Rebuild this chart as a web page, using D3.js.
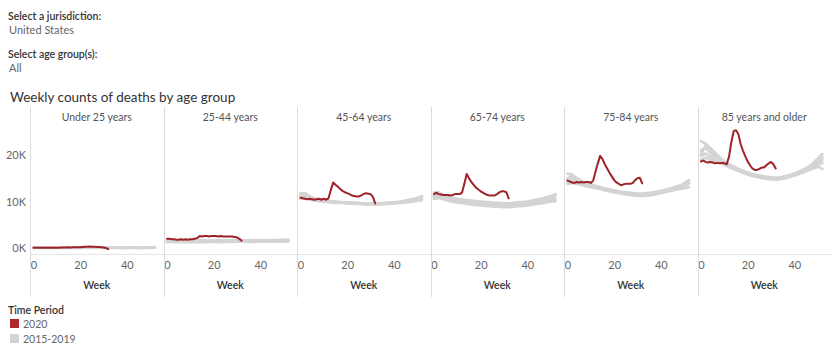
<!DOCTYPE html>
<html>
<head>
<meta charset="utf-8">
<script src="https://cdn.jsdelivr.net/npm/d3@7"></script>
<style>
  html, body { margin: 0; padding: 0; background: #fff; }
  svg { display: block; font-family: Lato, "Open Sans", sans-serif; }
</style>
</head>
<body>
<svg id="chart" width="840" height="356"></svg>
<script>
// ---------------- DATA ----------------
const ageGroups = ["Under 25 years", "25-44 years", "45-64 years", "65-74 years", "75-84 years", "85 years and older"];
const yTicks = [0, 10, 20];          // thousands
const yTickLabels = ["0K", "10K", "20K"];
const xTicks = [0, 20, 40];
const periods = ["2020", "2015-2019"];

// 2020 weekly deaths (thousands), weeks 0..32
const weeks2020 = d3.range(0, 33);
const d2020_under25 = [0.1,0.1,0.1,0.1,0.1,0.1,0.1,0.1,0.1,0.1,0.1,0.1,0.15,0.15,0.15,0.2,0.15,0.2,0.2,0.2,0.2,0.25,0.3,0.3,0.35,0.3,0.3,0.25,0.25,0.2,0.15,0.05,-0.2];
const d2020_25_44 = [2.0,2.0,1.9,1.9,1.8,1.8,1.9,1.8,1.9,1.8,1.9,1.9,2.0,2.2,2.6,2.5,2.6,2.6,2.5,2.6,2.6,2.6,2.5,2.6,2.5,2.5,2.5,2.5,2.5,2.4,2.3,2.0,1.6];
const d2020_45_64 = [10.8,10.7,10.6,10.5,10.6,10.5,10.4,10.5,10.6,10.4,10.6,10.4,10.7,12.5,14.1,13.6,13.2,12.7,12.3,12.0,11.8,11.6,11.3,11.2,11.1,11.1,11.3,11.6,11.8,11.7,11.6,11.0,9.6];
const d2020_65_74 = [11.6,11.9,11.6,11.5,11.4,11.4,11.4,11.3,11.4,11.6,11.6,11.6,11.9,13.8,15.9,15.0,14.2,13.6,13.0,12.6,12.2,11.9,11.6,11.4,11.3,11.3,11.3,11.6,12.0,12.2,12.2,12.0,10.7];
const d2020_75_84 = [14.5,14.3,14.1,14.0,14.2,14.1,14.2,14.1,14.2,14.2,14.0,14.5,16.4,18.2,19.8,19.1,18.0,17.1,16.2,15.4,14.6,14.1,13.8,13.5,13.7,13.8,13.8,13.8,14.0,14.6,15.0,15.1,13.9];
const d2020_85plus = [18.6,18.8,18.5,18.4,18.5,18.4,18.2,18.3,18.2,18.3,18.2,18.0,19.6,22.8,25.1,25.3,24.5,22.3,20.9,19.7,18.6,17.8,17.1,16.8,16.8,17.0,17.3,17.3,17.8,18.2,18.5,18.0,17.1];

// 2015-2019 weekly deaths (thousands), every second week 0..52, one row per year
const weeksHist = d3.range(0, 53, 2);
const hist_under25 = [
  [0.15,0.15,0.1,0.1,0.1,0.1,0.1,0.15,0.1,0.15,0.15,0.15,0.1,0.15,0.15,0.15,0.1,0.15,0.1,0.1,0.1,0.15,0.1,0.1,0.1,0.15,0.15],
  [0.1,0.1,0.1,0.05,0.1,0.1,0.05,0.1,0.1,0.1,0.1,0.1,0.1,0.1,0.1,0.1,0.1,0.1,0.1,0.05,0.1,0.1,0.1,0.05,0.1,0.1,0.1],
  [0.05,0.1,0.05,0.05,0.05,0.05,0.05,0.05,0.05,0.1,0.05,0.05,0.05,0.1,0.05,0.05,0.05,0.05,0.05,0.05,0.05,0.05,0.05,0.05,0.05,0.05,0.1],
  [0.2,0.15,0.15,0.15,0.15,0.1,0.15,0.15,0.15,0.15,0.15,0.2,0.15,0.15,0.2,0.15,0.15,0.15,0.15,0.15,0.15,0.1,0.15,0.15,0.15,0.15,0.2],
  [0.1,0.15,0.1,0.1,0.1,0.1,0.1,0.1,0.1,0.1,0.1,0.1,0.15,0.1,0.1,0.1,0.15,0.1,0.1,0.1,0.1,0.1,0.1,0.1,0.1,0.1,0.1]
];
const hist_25_44 = [
  [1.5,1.5,1.5,1.4,1.5,1.4,1.5,1.5,1.4,1.5,1.5,1.5,1.5,1.6,1.5,1.5,1.6,1.5,1.5,1.5,1.5,1.6,1.5,1.5,1.6,1.6,1.6],
  [1.4,1.4,1.4,1.4,1.4,1.4,1.4,1.4,1.4,1.4,1.4,1.5,1.4,1.4,1.5,1.5,1.4,1.4,1.4,1.4,1.5,1.4,1.4,1.5,1.5,1.5,1.5],
  [1.3,1.4,1.3,1.3,1.3,1.3,1.3,1.3,1.3,1.3,1.4,1.3,1.3,1.4,1.4,1.4,1.4,1.4,1.3,1.4,1.4,1.4,1.4,1.4,1.4,1.4,1.5],
  [1.6,1.6,1.6,1.6,1.6,1.5,1.6,1.6,1.6,1.6,1.6,1.7,1.6,1.6,1.7,1.6,1.6,1.6,1.6,1.6,1.6,1.7,1.6,1.6,1.7,1.7,1.7],
  [1.7,1.7,1.6,1.6,1.6,1.6,1.6,1.6,1.6,1.6,1.6,1.6,1.6,1.6,1.6,1.6,1.6,1.6,1.7,1.6,1.6,1.6,1.7,1.7,1.7,1.7,1.8]
];
const hist_45_64 = [
  [11.8,11.6,11.0,10.6,10.4,10.3,10.1,10.0,9.9,9.8,9.8,9.7,9.7,9.6,9.6,9.6,9.6,9.6,9.7,9.7,9.8,9.9,10.0,10.1,10.3,10.5,10.9],
  [11.1,11.3,10.8,10.5,10.3,10.2,10.1,10.0,9.9,9.8,9.7,9.7,9.6,9.6,9.5,9.5,9.5,9.6,9.6,9.7,9.8,9.8,9.9,10.0,10.2,10.4,10.6],
  [10.8,11.0,10.6,10.4,10.2,10.1,10.0,9.9,9.8,9.8,9.7,9.6,9.6,9.5,9.5,9.5,9.4,9.5,9.5,9.6,9.7,9.8,9.9,10.0,10.1,10.3,10.5],
  [10.6,10.7,10.4,10.2,10.1,10.0,9.9,9.8,9.7,9.7,9.6,9.6,9.5,9.5,9.4,9.4,9.4,9.4,9.5,9.5,9.6,9.7,9.8,9.9,10.0,10.2,10.3],
  [11.3,11.8,11.1,10.7,10.4,10.2,10.1,10.0,9.9,9.8,9.8,9.7,9.7,9.6,9.6,9.6,9.5,9.6,9.6,9.7,9.8,9.9,10.1,10.3,10.5,10.8,11.2]
];
const hist_65_74 = [
  [11.9,11.7,11.3,11.0,10.8,10.6,10.4,10.3,10.2,10.1,10.0,9.9,9.8,9.7,9.7,9.6,9.6,9.7,9.8,9.9,10.0,10.2,10.4,10.6,10.9,11.2,11.6],
  [11.2,11.4,11.0,10.8,10.6,10.4,10.2,10.1,10.0,9.9,9.8,9.7,9.6,9.5,9.5,9.4,9.4,9.5,9.6,9.7,9.8,10.0,10.2,10.4,10.6,10.9,11.2],
  [10.9,11.0,10.7,10.5,10.3,10.1,9.9,9.8,9.7,9.6,9.5,9.4,9.3,9.3,9.2,9.2,9.2,9.2,9.3,9.4,9.5,9.6,9.8,10.0,10.2,10.4,10.6],
  [10.6,10.8,10.5,10.2,10.0,9.8,9.7,9.5,9.4,9.3,9.2,9.1,9.0,8.9,8.9,8.8,8.8,8.9,9.0,9.1,9.2,9.3,9.5,9.6,9.8,10.0,10.1],
  [11.5,12.0,11.4,11.0,10.7,10.5,10.3,10.2,10.1,10.0,9.9,9.8,9.7,9.6,9.6,9.5,9.5,9.6,9.7,9.8,9.9,10.1,10.3,10.5,10.7,11.0,11.4]
];
const hist_75_84 = [
  [16.0,15.8,15.0,14.4,14.0,13.6,13.3,13.0,12.7,12.5,12.3,12.1,11.9,11.8,11.7,11.6,11.5,11.6,11.7,11.9,12.1,12.4,12.7,13.0,13.4,13.9,14.6],
  [15.0,15.3,14.6,14.1,13.8,13.5,13.2,12.9,12.6,12.3,12.1,11.9,11.7,11.5,11.4,11.3,11.2,11.3,11.4,11.6,11.8,12.1,12.4,12.7,13.0,13.4,13.9],
  [14.3,14.6,14.3,14.0,13.7,13.5,13.3,13.0,12.8,12.6,12.4,12.2,12.0,11.9,11.8,11.7,11.7,11.8,11.9,12.1,12.3,12.5,12.8,13.1,13.4,13.7,14.0],
  [13.8,14.0,13.8,13.6,13.3,13.1,12.9,12.7,12.4,12.2,12.0,11.8,11.6,11.5,11.4,11.3,11.3,11.4,11.5,11.7,11.9,12.1,12.3,12.5,12.7,12.9,13.1],
  [14.8,15.6,14.9,14.3,13.9,13.6,13.3,13.1,12.8,12.5,12.3,12.1,11.9,11.8,11.6,11.5,11.5,11.6,11.7,11.9,12.1,12.4,12.7,13.0,13.3,13.7,14.2]
];
const hist_85plus = [
  [23.0,22.4,21.5,20.5,19.5,18.6,18.0,17.5,17.0,16.6,16.2,15.9,15.7,15.5,15.3,15.2,15.1,15.2,15.4,15.7,16.0,16.4,16.9,17.4,18.2,19.2,20.2],
  [21.0,21.5,20.5,19.4,18.8,18.2,17.6,17.1,16.7,16.3,15.9,15.6,15.4,15.2,15.0,14.9,14.8,14.9,15.1,15.4,15.7,16.1,16.5,17.0,17.6,18.3,19.0],
  [19.8,20.3,19.6,19.0,18.5,18.0,17.5,17.2,16.9,16.5,16.1,15.8,15.5,15.3,15.1,15.0,14.9,15.0,15.2,15.5,15.8,16.2,16.6,17.0,17.5,17.9,18.3],
  [19.0,19.4,19.0,18.6,18.3,17.9,17.4,17.0,16.6,16.2,15.8,15.5,15.3,15.1,14.9,14.8,14.7,14.8,15.0,15.3,15.6,15.9,16.3,16.7,17.1,17.5,17.0],
  [20.2,22.0,21.2,19.8,18.9,18.3,17.8,17.3,16.8,16.4,16.0,15.7,15.5,15.3,15.2,15.0,15.0,15.1,15.3,15.6,15.9,16.3,16.8,17.3,17.9,18.6,19.5]
];

const series2020 = [d2020_under25, d2020_25_44, d2020_45_64, d2020_65_74, d2020_75_84, d2020_85plus];
const seriesHist = [hist_under25, hist_25_44, hist_45_64, hist_65_74, hist_75_84, hist_85plus];

const colors = { "2020": "#9e2228", "2015-2019": "#d4d4d4" };

// ---------------- CHART ----------------
const svg = d3.select("#chart");
const txtDark = "#333333", txtMid = "#555555", txtLight = "#666666";

// Filter texts
svg.append("text").attr("x", 8).attr("y", 20).attr("font-size", 10.5).attr("font-weight", 600).attr("fill", txtDark).text("Select a jurisdiction:");
svg.append("text").attr("x", 9).attr("y", 34).attr("font-size", 11).attr("fill", txtLight).text("United States");
svg.append("text").attr("x", 8).attr("y", 58).attr("font-size", 10.5).attr("font-weight", 600).attr("fill", txtDark).text("Select age group(s):");
svg.append("text").attr("x", 9).attr("y", 72).attr("font-size", 11).attr("fill", txtLight).text("All");

// Title
svg.append("text").attr("x", 10).attr("y", 102).attr("font-size", 13.5).attr("fill", txtDark).text("Weekly counts of deaths by age group");

// Scales
const panelX = d3.scaleBand().domain(ageGroups).range([30, 831]).paddingInner(0).paddingOuter(0);
const pw = panelX.bandwidth();
const x = d3.scaleLinear().domain([-1.5, 55.7]).range([0, pw]);
const y = d3.scaleLinear().domain([-1.25, 26]).range([254, 127]);

// Y axis labels
const yAxis = d3.axisLeft(y).tickValues(yTicks).tickSize(0).tickPadding(4).tickFormat((d, i) => yTickLabels[i]);
const gy = svg.append("g").attr("transform", "translate(30,0)").call(yAxis);
gy.select(".domain").remove();
gy.selectAll("text").attr("font-size", 11).attr("fill", txtLight).attr("font-family", "Lato, sans-serif");

// Baseline (axis) line
svg.append("line").attr("x1", 30).attr("x2", 831).attr("y1", 254.5).attr("y2", 254.5).attr("stroke", "#e6e6e6").attr("stroke-width", 1);

const line = d3.line().x(d => x(d[0])).y(d => y(d[1]));

ageGroups.forEach((g, i) => {
  const left = panelX(g);
  const panel = svg.append("g").attr("transform", `translate(${left},0)`);

  // divider line
  svg.append("line").attr("x1", Math.round(left) + 0.5).attr("x2", Math.round(left) + 0.5)
    .attr("y1", 107).attr("y2", 297).attr("stroke", "#dcdcdc").attr("stroke-width", 1);

  // header
  panel.append("text").attr("x", pw / 2).attr("y", 121).attr("text-anchor", "middle")
    .attr("font-size", 10.5).attr("fill", txtMid).text(g);

  // historical lines
  seriesHist[i].forEach(vals => {
    panel.append("path")
      .datum(vals.map((v, k) => [weeksHist[k], v]))
      .attr("d", line).attr("fill", "none")
      .attr("stroke", colors["2015-2019"]).attr("stroke-width", 2.8)
      .attr("stroke-linejoin", "round").attr("stroke-linecap", "round");
  });

  // 2020 line
  panel.append("path")
    .datum(series2020[i].map((v, k) => [weeks2020[k], v]))
    .attr("d", line).attr("fill", "none")
    .attr("stroke", colors["2020"]).attr("stroke-width", 2)
    .attr("stroke-linejoin", "round").attr("stroke-linecap", "round");

  // x axis
  const xAxis = d3.axisBottom(x).tickValues(xTicks).tickSize(0).tickPadding(7).tickFormat(d3.format("d"));
  const gx = panel.append("g").attr("transform", "translate(0,254)").call(xAxis);
  gx.select(".domain").remove();
  gx.selectAll("text").attr("font-size", 11).attr("fill", txtLight).attr("font-family", "Lato, sans-serif");

  panel.append("text").attr("x", pw / 2).attr("y", 289).attr("text-anchor", "middle")
    .attr("font-size", 10.5).attr("font-weight", 600).attr("fill", txtDark).text("Week");
});

// Legend
svg.append("text").attr("x", 8).attr("y", 314).attr("font-size", 10.5).attr("font-weight", 600).attr("fill", txtDark).text("Time Period");
const leg = svg.append("g").selectAll("g").data(periods).join("g")
  .attr("transform", (d, i) => `translate(10,${319 + i * 15})`);
leg.append("rect").attr("width", 9).attr("height", 9).attr("fill", d => d === "2020" ? "#b0272d" : colors[d]);
leg.append("text").attr("x", 13).attr("y", 8.5).attr("font-size", 10.5).attr("fill", txtLight).text(d => d);
</script>
</body>
</html>
